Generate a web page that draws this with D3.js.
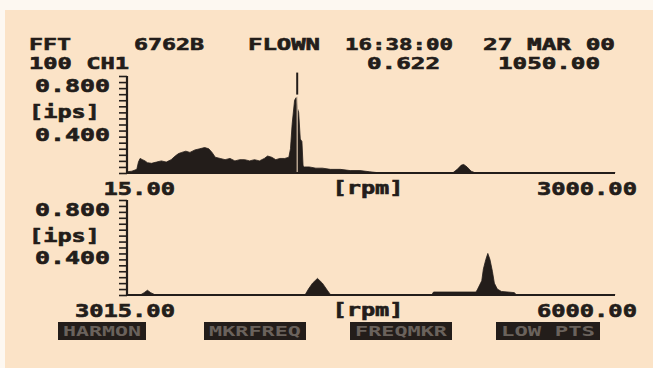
<!DOCTYPE html>
<html>
<head>
<meta charset="utf-8">
<script src="https://cdn.jsdelivr.net/npm/d3@7/dist/d3.min.js"></script>
<style>
  html, body { margin: 0; padding: 0; background: #fdf8f1; }
  svg { display: block; }
</style>
</head>
<body>
<div id="chart"></div>
<script>
// header texts
var header1 = ["FFT", "6762B", "FLOWN", "16:38:00", "27 MAR 00"];
var header2 = ["100 CH1", "0.622", "1050.00"];
var buttons = ["HARMON", "MKRFREQ", "FREQMKR", "LOW PTS"];
var yLabels = ["0.800", "[ips]", "0.400"];

// upper spectrum, 15 - 3000 rpm
var rpm1 = [15, 45, 75, 85, 95, 110, 125, 140, 165, 195, 225, 255, 285, 310, 330, 350, 375, 400, 430, 460, 490, 515, 535, 555, 585, 615, 645, 675, 705, 735, 765, 795, 825, 855, 875, 900, 925, 950, 980, 1005, 1015, 1025, 1040, 1050, 1058, 1065, 1075, 1085, 1092, 1100, 1130, 1170, 1210, 1260, 1320, 1380, 1440, 1500, 1540, 2010, 2035, 2060, 2075, 2095, 2120, 2140, 3000];
var amp1 = [0.01, 0.015, 0.03, 0.09, 0.12, 0.11, 0.1, 0.085, 0.08, 0.09, 0.1, 0.09, 0.11, 0.14, 0.16, 0.17, 0.18, 0.17, 0.19, 0.2, 0.21, 0.2, 0.17, 0.13, 0.12, 0.11, 0.12, 0.1, 0.11, 0.11, 0.1, 0.11, 0.1, 0.12, 0.14, 0.13, 0.11, 0.12, 0.12, 0.13, 0.2, 0.4, 0.6, 0.622, 0.53, 0.5, 0.28, 0.26, 0.06, 0.05, 0.05, 0.04, 0.04, 0.03, 0.03, 0.02, 0.02, 0.01, 0.004, 0.004, 0.03, 0.065, 0.07, 0.05, 0.015, 0.004, 0.004];

// lower spectrum, 3015 - 6000 rpm
var rpm2 = [3015, 3100, 3120, 3140, 3160, 3185, 4105, 4125, 4150, 4180, 4210, 4240, 4260, 4880, 4890, 5150, 5160, 5185, 5195, 5210, 5222, 5235, 5250, 5262, 5280, 5305, 5385, 5395, 6000];
var amp2 = [0.003, 0.003, 0.02, 0.04, 0.02, 0.003, 0.003, 0.05, 0.1, 0.14, 0.1, 0.04, 0.003, 0.003, 0.025, 0.025, 0.05, 0.12, 0.22, 0.3, 0.35, 0.3, 0.2, 0.1, 0.05, 0.03, 0.02, 0.003, 0.003];

var cursorRpm = 1050, cursorAmp = 0.622;

var width = 653, height = 368;
var ink = "#231d1a";
var paper = "#fbe3c7";

var svg = d3.select("#chart")
  .append("svg")
    .attr("width", width)
    .attr("height", height);

svg.append("rect")
    .attr("x", 5).attr("y", 10)
    .attr("width", width - 5).attr("height", height - 10)
    .style("fill", paper);

var font = "'DejaVu Sans Mono', 'Liberation Mono', monospace";

function label(txt, x, y, w, anchor, size) {
	return svg.append("text")
	    .attr("x", x)
	    .attr("y", y)
	    .attr("text-anchor", anchor || "start")
	    .attr("textLength", w)
	    .attr("lengthAdjust", "spacingAndGlyphs")
	    .style("font-family", font)
	    .style("font-weight", "bold")
	    .style("font-size", (size || 17) + "px")
	    .style("fill", ink)
	    .style("stroke", ink)
	    .style("stroke-width", 0.6)
	    .text(txt);
}

//header
var h1x = [29, 134, 248, 345, 483], h1w = [42, 70, 72, 108, 132];
header1.forEach(function(t, i) { label(t, h1x[i], 50, h1w[i], "start", 16); });
var h2x = [29, 367, 498], h2w = [100, 73, 102];
header2.forEach(function(t, i) { label(t, h2x[i], 69, h2w[i], "start", 16); });

function panel(top, bottom, lo, hi, rpm, amp, cursor) {
	var x = d3.scaleLinear().domain([lo, hi]).range([127, 615]);
	var y = d3.scaleLinear().domain([0, 0.8]).range([bottom, top]);
	var data = rpm.map(function(r, i) { return { r: r, a: amp[i] }; });

	var area = d3.area()
	    .x(function(d) { return x(d.r); })
	    .y0(y(0))
	    .y1(function(d) { return y(d.a); })
	    .curve(d3.curveLinear);

	svg.append("path")
	    .datum(data)
	    .attr("d", area)
	    .style("fill", ink)
	    .style("stroke", ink)
	    .style("stroke-width", 0.8);

	if (cursor) {
		var cx = x(cursorRpm) + 1;
		svg.append("line")
		    .attr("x1", cx).attr("x2", cx)
		    .attr("y1", y(cursorAmp) - 1).attr("y2", y(0) - 1)
		    .style("stroke", "#d9c2aa")
		    .style("stroke-width", 1.2);
		svg.append("line")
		    .attr("x1", cx).attr("x2", cx)
		    .attr("y1", y(cursorAmp) - 25).attr("y2", y(cursorAmp) - 3)
		    .style("stroke", ink)
		    .style("stroke-width", 2);
	}

	var yAxis = d3.axisLeft(y)
	    .tickValues(d3.range(0, 16).map(function(i) { return i * 0.05; }).concat([0.8]))
	    .tickSize(8)
	    .tickFormat("");
	var g = svg.append("g").attr("transform", "translate(127,0)").call(yAxis);
	g.select(".domain").remove();
	g.selectAll(".tick line").style("stroke", ink).style("stroke-width", 1.6);

	svg.append("line")
	    .attr("x1", 127).attr("x2", 127)
	    .attr("y1", y(0.8)).attr("y2", y(0))
	    .style("stroke", ink).style("stroke-width", 2.2);
	svg.append("line")
	    .attr("x1", 126).attr("x2", x(hi))
	    .attr("y1", y(0)).attr("y2", y(0))
	    .style("stroke", ink).style("stroke-width", 2.2);

	label(yLabels[0], 35, y(0.8) + 16, 75);
	label(yLabels[1], 29, (y(0.8) + y(0.4)) / 2 + 18, 71);
	label(yLabels[2], 35, y(0.4) + 16, 75);

	var loTxt = d3.format(".2f")(lo), hiTxt = d3.format(".2f")(hi);
	label(loTxt, x(lo) + 48, y(0) + 22, loTxt.length * 14.3, "end");
	label("[rpm]", (x(lo) + x(hi)) / 2 - 3, y(0) + 21, 71, "middle");
	label(hiTxt, x(hi) + 22, y(0) + 22, hiTxt.length * 14.3, "end");
}

panel(76, 173, 15, 3000, rpm1, amp1, true);
panel(200, 295, 3015, 6000, rpm2, amp2, false);

//soft keys
var bx = [58, 204, 350, 496], bw = [88, 102, 102, 104];
buttons.forEach(function(t, i) {
	svg.append("rect")
	    .attr("x", bx[i]).attr("y", 322)
	    .attr("width", bw[i]).attr("height", 18)
	    .style("fill", ink);
	svg.append("text")
	    .attr("x", bx[i] + bw[i] / 2)
	    .attr("y", 336)
	    .attr("text-anchor", "middle")
	    .attr("textLength", bw[i] - 10)
	    .attr("lengthAdjust", "spacingAndGlyphs")
	    .style("font-family", font)
	    .style("font-weight", "bold")
	    .style("font-size", "14px")
	    .style("fill", "#6a625c")
	    .text(t);
});
</script>
</body>
</html>
